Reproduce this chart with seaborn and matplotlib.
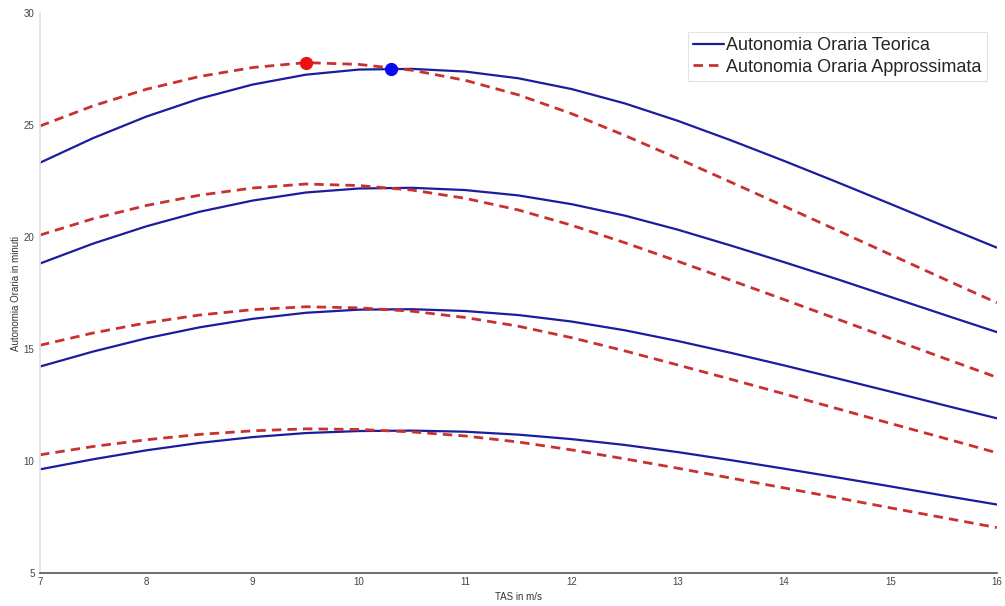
import numpy as np
import pandas as pd
import matplotlib
matplotlib.use('Agg')
import matplotlib.pyplot as plt
import seaborn as sns

# --- dati ---
tas = [7, 7.5, 8, 8.5, 9, 9.5, 10, 10.5, 11, 11.5, 12, 12.5, 13, 13.5, 14, 14.5, 15, 15.5, 16]

teorica_1 = [23.33, 24.43, 25.39, 26.19, 26.82, 27.26, 27.49, 27.52, 27.40, 27.10, 26.62, 25.98, 25.20, 24.33, 23.41, 22.46, 21.49, 20.51, 19.54]
teorica_2 = [18.83, 19.72, 20.49, 21.14, 21.64, 22.00, 22.18, 22.21, 22.11, 21.87, 21.48, 20.97, 20.34, 19.63, 18.89, 18.13, 17.34, 16.55, 15.77]
teorica_3 = [14.23, 14.90, 15.49, 15.98, 16.36, 16.63, 16.77, 16.79, 16.71, 16.53, 16.24, 15.85, 15.37, 14.84, 14.28, 13.70, 13.11, 12.51, 11.92]
teorica_4 = [9.64, 10.09, 10.49, 10.82, 11.08, 11.26, 11.35, 11.37, 11.32, 11.19, 10.99, 10.73, 10.41, 10.05, 9.67, 9.28, 8.88, 8.47, 8.07]

approx_1 = [24.97, 25.87, 26.61, 27.18, 27.58, 27.80, 27.72, 27.46, 27.01, 26.36, 25.52, 24.55, 23.52, 22.46, 21.39, 20.31, 19.23, 18.15, 17.08]
approx_2 = [20.10, 20.83, 21.42, 21.88, 22.20, 22.38, 22.31, 22.11, 21.74, 21.22, 20.54, 19.76, 18.93, 18.08, 17.22, 16.35, 15.48, 14.61, 13.75]
approx_3 = [15.18, 15.73, 16.18, 16.53, 16.77, 16.90, 16.85, 16.70, 16.42, 16.03, 15.52, 14.93, 14.30, 13.66, 13.01, 12.35, 11.69, 11.04, 10.38]
approx_4 = [10.29, 10.66, 10.96, 11.20, 11.36, 11.45, 11.42, 11.31, 11.13, 10.86, 10.51, 10.11, 9.69, 9.25, 8.81, 8.37, 7.92, 7.48, 7.04]

# massimi evidenziati
max_teorica = (10.3, 27.53)
max_approx = (9.5, 27.8)

x_ticks = [7, 8, 9, 10, 11, 12, 13, 14, 15, 16]
y_ticks = [5, 10, 15, 20, 25, 30]

sns.set_theme(style='white')
plt.rcParams['font.family'] = ['Liberation Sans', 'DejaVu Sans']

fig = plt.figure(figsize=(10.05, 6.06), dpi=100)
ax = fig.add_axes([0.0398, 0.054, 0.952, 0.924])

blue = '#1c1c9e'
red = '#c93030'

teoriche = [teorica_1, teorica_2, teorica_3, teorica_4]
approssimate = [approx_1, approx_2, approx_3, approx_4]

for i, (t, a) in enumerate(zip(teoriche, approssimate)):
    sns.lineplot(x=tas, y=t, ax=ax, color=blue, linewidth=1.6,
                 solid_joinstyle='round',
                 label='Autonomia Oraria Teorica' if i == 0 else None)
    sns.lineplot(x=tas, y=a, ax=ax, color=red, linewidth=2.0,
                 dashes=False, linestyle=(0, (3.4, 2.2)),
                 label='Autonomia Oraria Approssimata' if i == 0 else None)

ax.plot(*max_approx, 'o', color='#ee1111', markersize=8.5, zorder=5)
ax.plot(*max_teorica, 'o', color='#0a0af0', markersize=8.5, zorder=5)

ax.set_xlim(7, 16)
ax.set_ylim(5, 30)
ax.set_xticks(x_ticks)
ax.set_yticks(y_ticks)

for s in ['top', 'right']:
    ax.spines[s].set_visible(False)
ax.spines['left'].set_color('#e2e2e2')
ax.spines['bottom'].set_color('#555555')
ax.spines['bottom'].set_linewidth(1.2)

ax.tick_params(axis='x', direction='in', length=6.5, width=0.9, color='#555555',
               labelsize=7, labelcolor='#444444', pad=3)
ax.tick_params(axis='y', direction='in', length=7, width=0.8, color='#cccccc',
               labelsize=7, labelcolor='#444444', pad=4)

ax.set_xlabel('TAS in m/s', fontsize=7, color='#333333', labelpad=3)
ax.set_ylabel('Autonomia Oraria in minuti', fontsize=7, color='#333333', labelpad=2)

leg = ax.legend(loc='upper right', bbox_to_anchor=(0.9895, 0.967), fontsize=13,
                frameon=True, fancybox=False, handlelength=1.7, handletextpad=0.1,
                borderpad=0.3, labelspacing=0.25, borderaxespad=0)
leg.get_frame().set_edgecolor('#dddddd')
leg.get_frame().set_linewidth(0.8)

plt.savefig('out.png', dpi=100)
